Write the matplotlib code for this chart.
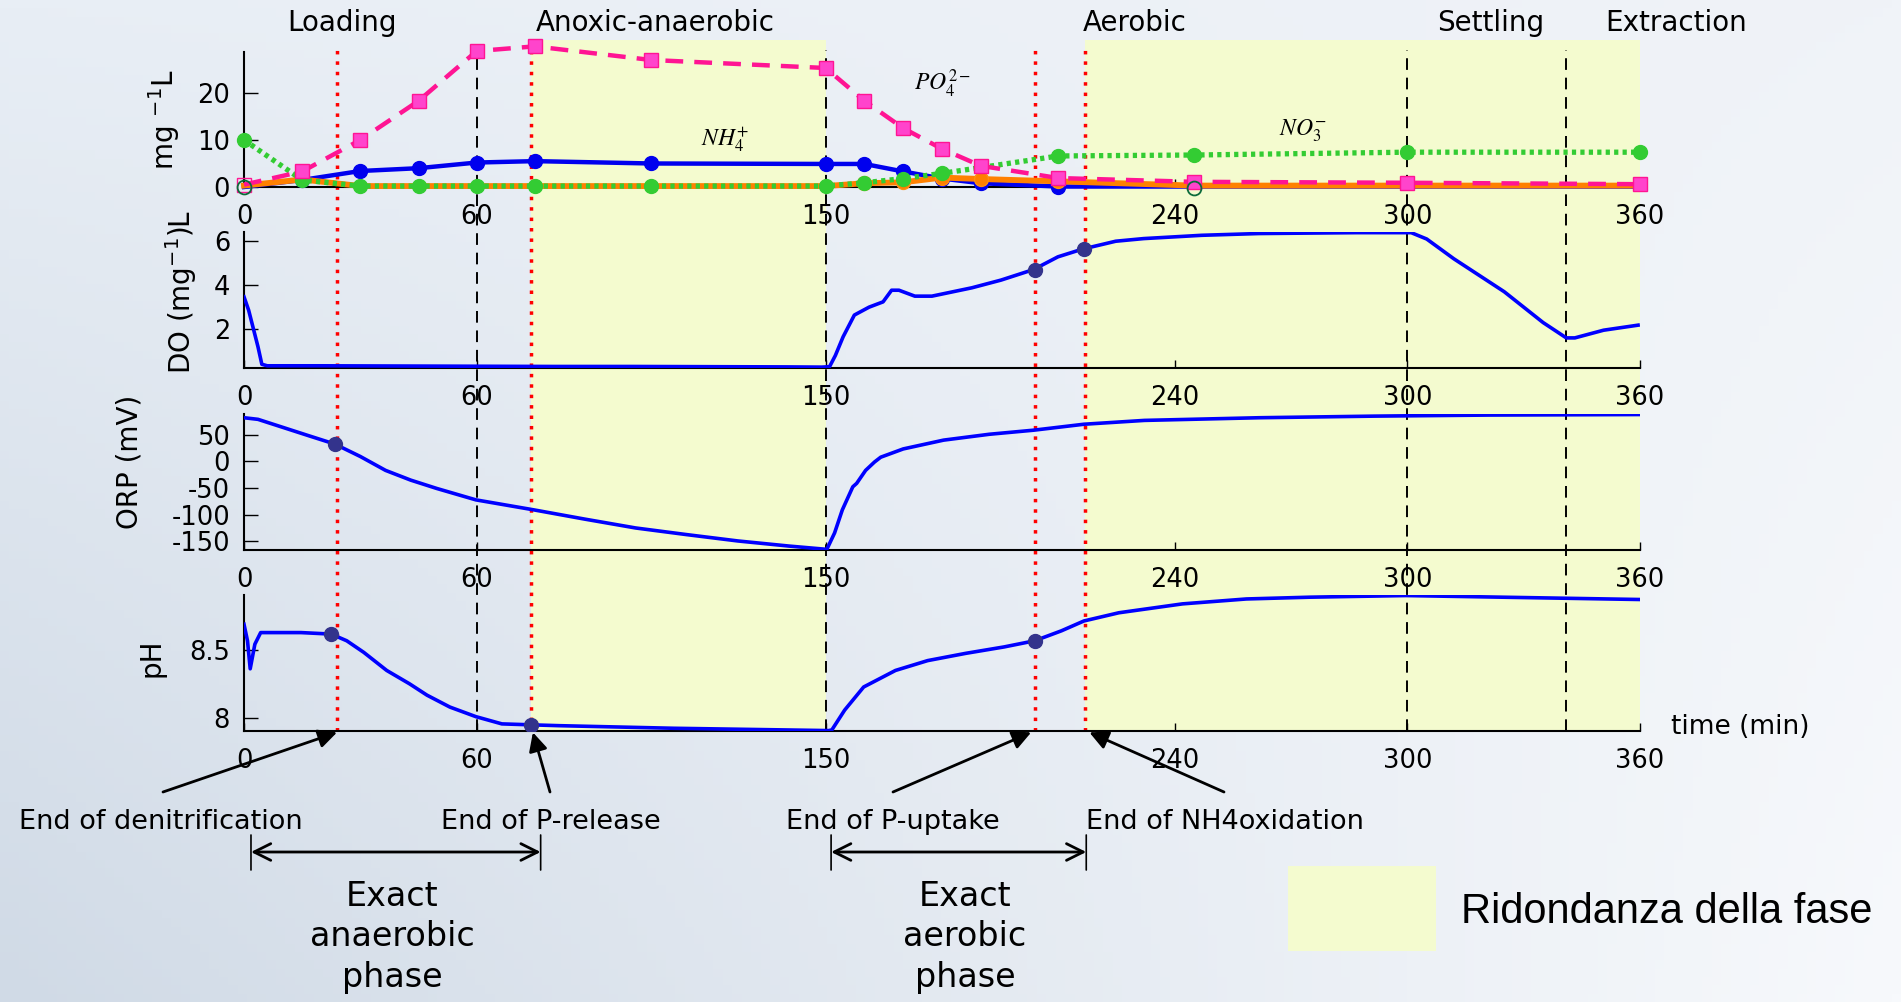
import numpy as np
import matplotlib
matplotlib.use("Agg")
import matplotlib.pyplot as plt
from matplotlib.patches import Rectangle

plt.rcParams['font.family'] = ['DejaVu Sans']
plt.rcParams['axes.unicode_minus'] = False

# ---- data ----
xticks = [0, 60, 150, 240, 300, 360]

# top panel: grab samples (mg/L)
t_samp = [0, 15, 30, 45, 60, 75, 105, 150, 160, 170, 180, 190, 210, 245, 300, 360]
po4 = [0.5, 3.3, 10.0, 18.3, 28.9, 29.9, 27.0, 25.3, 18.3, 12.5, 8.1, 4.5, 1.9, 1.1, 0.9, 0.6]
nh4 = [0.0, 1.5, 3.4, 4.0, 5.2, 5.5, 5.0, 4.9, 4.9, 3.3, 1.8, 0.8, 0.1, 0.1, 0.1, 0.1]
no2 = [0.3, 1.6, 0.2, 0.2, 0.2, 0.2, 0.2, 0.2, 0.8, 1.0, 2.0, 1.7, 1.2, 0.3, 0.3, 0.3]
t_no3 = [0, 15, 30, 45, 60, 75, 105, 150, 160, 170, 180, 210, 245, 300, 360]
no3 = [10.0, 1.5, 0.2, 0.2, 0.2, 0.2, 0.2, 0.2, 0.9, 1.8, 2.9, 6.6, 6.8, 7.4, 7.4]
open_t = [0, 245]
open_v = [0.0, -0.3]

# DO (mg/L)
do_t = [0, 1.2, 3.6, 4.6, 6, 20, 40, 60, 80, 100, 120, 140, 149, 151, 152.5, 154.5,
        157.4, 161.2, 164.8, 167, 168.9, 173, 177.4, 187.7, 195.2, 203.6, 209.9, 216.2,
        224.8, 232, 247, 261.7, 287, 301, 305, 312, 325, 335, 341, 343.2,
        350.6, 359.5]
do_v = [3.47, 2.86, 1.2, 0.4, 0.33, 0.33, 0.32, 0.31, 0.3, 0.3, 0.29, 0.28, 0.27, 0.29,
        0.8, 1.65, 2.64, 3.0, 3.24, 3.77, 3.77, 3.5, 3.5, 3.88, 4.23, 4.71, 5.29, 5.64,
        6.0, 6.12, 6.27, 6.35, 6.39, 6.39, 6.1, 5.2, 3.7, 2.3, 1.6, 1.6, 1.95, 2.18]

# ORP (mV)
orp_t = [0, 3.6, 10.2, 16.8, 23.4, 30, 36.5, 43, 49.7, 59.8, 74.7, 87.8, 101, 114, 127.3,
         140.5, 150.3, 152.3, 154.3, 157, 158, 160.3, 162.6, 164.2, 170, 180.4, 192.2,
         203.7, 216.6, 232.2, 261.8, 291.4, 321, 360]
orp_v = [82, 79, 63.5, 48, 32.7, 9.3, -16.7, -35, -50.6, -72, -90.7, -108, -124.7, -137,
         -149, -158.6, -164.8, -134, -90.7, -47.5, -41, -16.7, -1, 8, 23.5, 40, 51, 58.7,
         69.8, 77, 82, 85, 87, 88]

# pH
ph_t = [0, 0.9, 1.6, 2.8, 4.3, 14.7, 22.5, 26.5, 30.9, 36.8, 42.7, 47.2, 53.1, 59.8, 66.5,
        74.2, 81.2, 110.8, 150.8, 151.6, 154.9, 159.8, 168, 176.3, 186.1, 196, 203.9, 210.8,
        216.6, 225.6, 242, 258.5, 274.9, 299.6, 324.3, 360]
ph_v = [8.686, 8.565, 8.36, 8.54, 8.625, 8.625, 8.614, 8.565, 8.48, 8.348, 8.25, 8.167,
        8.08, 8.01, 7.957, 7.95, 7.944, 7.925, 7.908, 7.913, 8.058, 8.227, 8.348, 8.42,
        8.473, 8.52, 8.565, 8.638, 8.71, 8.77, 8.835, 8.871, 8.884, 8.896, 8.884, 8.867]

# key points
do_mk_t, do_mk_v = [204, 216.5], [4.71, 5.64]
orp_mk_t, orp_mk_v = [23.5], [32.7]
ph_mk_t, ph_mk_v = [22.5, 74, 204], [8.614, 7.95, 8.565]

red_lines = [24, 74, 204, 217]
black_lines = [60, 150, 300, 341]
shade_spans = [(74, 150), (217, 360)]
phase_names = ["Loading", "Anoxic-anaerobic", "Aerobic", "Settling", "Extraction"]
phase_px = [342, 655, 1135, 1491, 1676]

W, H = 1901, 1002
fig = plt.figure(figsize=(W / 100, H / 100), dpi=100)

def fx(px):
    return px / W

def fy(py):
    return 1 - py / H

# soft slide background
bgimg = fig.add_axes([0, 0, 1, 1], zorder=-10)
gx, gy = np.meshgrid(np.linspace(0, 1, 200), np.linspace(0, 1, 120))
tl = np.array([232, 238, 245]); bl = np.array([208, 218, 230])
tr = np.array([240, 243, 248]); br = np.array([247, 249, 252])
img = ((1 - gx)[..., None] * ((1 - gy)[..., None] * tl + gy[..., None] * bl)
       + gx[..., None] * ((1 - gy)[..., None] * tr + gy[..., None] * br)) / 255
bgimg.imshow(img, aspect='auto', extent=[0, 1, 0, 1], origin='upper')
bgimg.axis('off')

left, width = fx(244), fx(1640) - fx(244)

# shading + event lines behind panels
bg = fig.add_axes([left, fy(731), width, fy(40) - fy(731)], zorder=0)
bg.set_xlim(0, 360); bg.set_ylim(0, 1); bg.axis('off')
for a, b in shade_spans:
    bg.axvspan(a, b, color='#F4FBCF', lw=0)
for x in red_lines:
    bg.axvline(x, ymin=0, ymax=0.99, color='red', lw=2.5, ls=(0, (1, 2)))
for x in black_lines:
    bg.axvline(x, ymin=0, ymax=0.985, color='black', lw=1.4, ls=(0, (6, 4)))

panels = [(187, 135), (368, 136), (550, 136), (731, 136)]
axes = []
for bottom, h in panels:
    ax = fig.add_axes([left, fy(bottom), width, h / H], zorder=2)
    ax.patch.set_alpha(0)
    ax.spines[['top', 'right']].set_visible(False)
    ax.spines[['left', 'bottom']].set_linewidth(1.5)
    ax.set_xlim(0, 360)
    ax.set_xticks(xticks)
    ax.tick_params(axis='x', direction='in', length=6, width=1, pad=12, labelsize=18.5)
    ax.tick_params(axis='y', direction='in', length=10, width=1, pad=10, labelsize=18.5)
    axes.append(ax)
ax1, ax2, ax3, ax4 = axes

# top panel
ax1.set_ylim(0, 28.7)
ax1.set_yticks([0, 10, 20])
ax1.plot(t_samp, nh4, color='#0000EE', lw=3.2, marker='o', ms=10,
         markevery=list(range(1, 13)), clip_on=False, zorder=3)
ax1.plot(t_samp, no2, color='#FF8000', lw=4.2, marker='o', ms=10, mec='#FF9010',
         markevery=list(range(8, 13)), clip_on=False, zorder=4)
ax1.plot(t_no3, no3, color='#33CC33', lw=3.8, ls=(0, (0.8, 0.8)), marker='o', ms=10,
         mec='#33CC33', clip_on=False, zorder=5)
ax1.plot(t_samp, po4, color='#FF1493', lw=3.2, ls=(0, (4, 2.5)), marker='s', ms=10,
         mfc='#FF44CC', mec='#FF1493', markevery=list(range(1, len(t_samp))),
         clip_on=False, zorder=6)
ax1.plot(t_samp[:1], po4[:1], ls='none', marker='s', ms=10, mfc='none', mec='#FF1493',
         clip_on=False, zorder=7)
ax1.plot(open_t, open_v, ls='none', marker='o', ms=10, mfc='none', mec='#0B6B3A',
         mew=1.3, clip_on=False, zorder=7)
ax1.text(180, 22, r'$PO_4^{2-}$', fontsize=17, math_fontfamily='stix', ha='center', va='center')
ax1.text(124, 10, r'$NH_4^{+}$', fontsize=17, math_fontfamily='stix', ha='center', va='center')
ax1.text(273, 12, r'$NO_3^{-}$', fontsize=17, math_fontfamily='stix', ha='center', va='center')
ax1.text(-0.057, 0.5, 'mg $^{-1}$L', rotation=90, fontsize=20, ha='center', va='center',
         transform=ax1.transAxes)

# DO
ax2.set_ylim(0.23, 6.42)
ax2.set_yticks([2, 4, 6])
ax2.plot(do_t, do_v, color='#0000FF', lw=2.6, zorder=3)
ax2.plot(do_mk_t, do_mk_v, ls='none', marker='o', ms=10, color='#33338C', zorder=4)
ax2.text(-0.045, 0.56, 'DO (mg$^{-1}$)L', rotation=90, fontsize=20, ha='center',
         va='center', transform=ax2.transAxes)

# ORP
ax3.set_ylim(-166, 89)
ax3.set_yticks([-150, -100, -50, 0, 50])
ax3.plot(orp_t, orp_v, color='#0000FF', lw=2.6, zorder=3)
ax3.plot(orp_mk_t, orp_mk_v, ls='none', marker='o', ms=10, color='#33338C', zorder=4)
ax3.text(-0.082, 0.65, 'ORP (mV)', rotation=90, fontsize=20, ha='center', va='center',
         transform=ax3.transAxes)

# pH
ax4.set_ylim(7.905, 8.9)
ax4.set_yticks([8, 8.5])
ax4.set_yticklabels(['8', '8.5'])
ax4.plot(ph_t, ph_v, color='#0000FF', lw=2.6, zorder=3)
ax4.plot(ph_mk_t, ph_mk_v, ls='none', marker='o', ms=10, color='#33338C', zorder=4)
ax4.text(-0.066, 0.54, 'pH', rotation=90, fontsize=20, ha='center', va='center',
         transform=ax4.transAxes)
fig.text(fx(1671), fy(727), 'time (min)', fontsize=19, ha='left', va='center')

# phase titles
for name, px in zip(phase_names, phase_px):
    fig.text(fx(px), fy(23), name, fontsize=20, ha='center', va='center')

# event arrows
ybot = ax4.get_ylim()[0]
events = [("End of denitrification", 24, 163, 161),
          ("End of P-release", 74.5, 550, 551),
          ("End of P-uptake", 203, 893, 893),
          ("End of NH4oxidation", 218, 1224, 1225)]
for label, tx, tail_px, text_px in events:
    ax4.annotate('', xy=(tx, ybot - 0.01), xycoords='data',
                 xytext=(fx(tail_px), fy(792)), textcoords='figure fraction',
                 arrowprops=dict(arrowstyle='-|>', color='black', lw=2,
                                 mutation_scale=28, shrinkA=0, shrinkB=0),
                 annotation_clip=False)
    fig.text(fx(text_px), fy(822), label, fontsize=19.5, ha='center', va='center')

# exact-phase spans
for (a, b), cx, txt in [((1.8, 76.5), 392, "Exact\nanaerobic\nphase"),
                        ((151.4, 217.2), 965, "Exact\naerobic\nphase")]:
    ax4.annotate('', xy=(b, fy(852)), xycoords=('data', 'figure fraction'),
                 xytext=(a, fy(852)), textcoords=('data', 'figure fraction'),
                 arrowprops=dict(arrowstyle='<->', color='black', lw=2,
                                 mutation_scale=30, shrinkA=0, shrinkB=0),
                 annotation_clip=False)
    for x in (a, b):
        ax4.annotate('', xy=(x, fy(835)), xycoords=('data', 'figure fraction'),
                     xytext=(x, fy(870)), textcoords=('data', 'figure fraction'),
                     arrowprops=dict(arrowstyle='-', color='black', lw=1.2,
                                     shrinkA=0, shrinkB=0),
                     annotation_clip=False)
    fig.text(fx(cx), fy(937), txt, fontsize=24, ha='center', va='center',
             linespacing=1.28)

# legend swatch
fig.patches.append(Rectangle((fx(1288), fy(951)), fx(1436) - fx(1288), fy(866) - fy(951),
                             transform=fig.transFigure, facecolor='#F4FBCF', lw=0,
                             zorder=1))
fig.text(fx(1461), fy(912), 'Ridondanza della fase', fontsize=30,
         family='Liberation Sans', ha='left', va='center')

fig.savefig('out.png', dpi=100)
